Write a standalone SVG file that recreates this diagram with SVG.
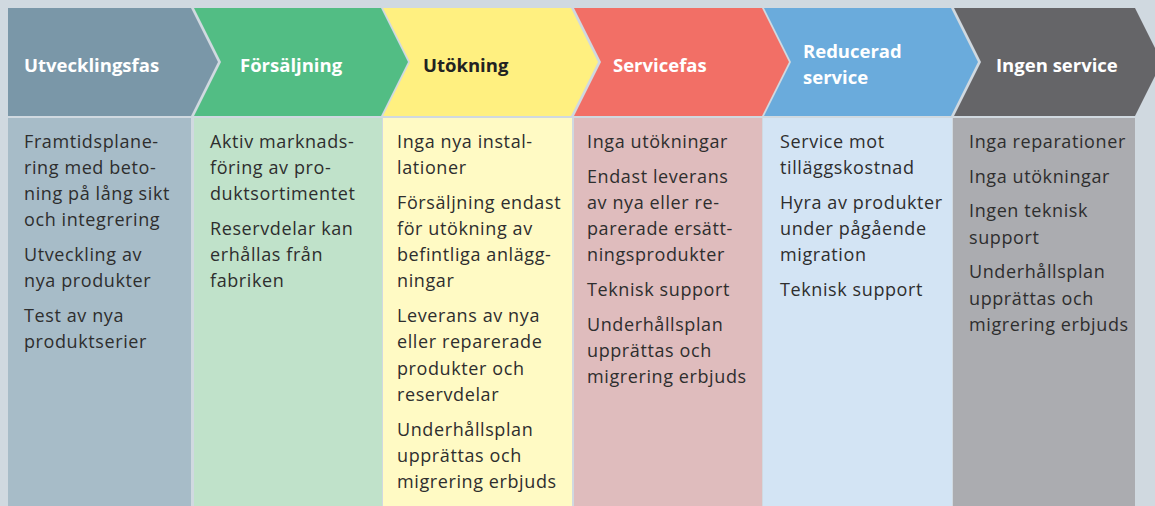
<svg xmlns="http://www.w3.org/2000/svg" width="1155" height="506" viewBox="0 0 1155 506">
<style>
.hd{font-family:"Open Sans","Noto Sans","Liberation Sans",sans-serif;font-weight:700;font-size:18.5px;fill:#ffffff}
.hd.dark{fill:#222222}
.bd{font-family:"Open Sans","Noto Sans","Liberation Sans",sans-serif;font-size:18px;letter-spacing:0.6px;fill:#2e2e2e}
</style>
<rect x="0" y="0" width="1155" height="506" fill="#d0d9e0"/>
<g id="connectors"></g>
<g id="phase1">
<polygon points="8,8 191,8 218,62 191,116 8,116" fill="#7a97a8"/>
<rect x="8" y="118" width="183" height="388" fill="#a7bcc8"/>
<text class="hd" x="24" y="72">Utvecklingsfas</text>
<text class="bd" x="24"><tspan x="24" y="147.7">Framtidsplane-</tspan><tspan x="24" y="173.9">ring med beto-</tspan><tspan x="24" y="200.1">ning på lång sikt</tspan><tspan x="24" y="226.3">och integrering</tspan><tspan x="24" y="261.1">Utveckling av</tspan><tspan x="24" y="287.3">nya produkter</tspan><tspan x="24" y="322.1">Test av nya</tspan><tspan x="24" y="348.3">produktserier</tspan></text>
</g>
<g id="phase2">
<polygon points="194,8 381,8 408,62 381,116 194,116 221,62" fill="#52bd84"/>
<rect x="194" y="118" width="188" height="388" fill="#c0e2ca"/>
<text class="hd" x="240" y="72">Försäljning</text>
<text class="bd"><tspan x="210" y="147.7">Aktiv marknads-</tspan><tspan x="210" y="173.9">föring av pro-</tspan><tspan x="210" y="200.1">duktsortimentet</tspan><tspan x="210" y="234.9">Reservdelar kan</tspan><tspan x="210" y="261.1">erhållas från</tspan><tspan x="210" y="287.3">fabriken</tspan></text>
</g>
<g id="phase3">
<polygon points="383,8 571,8 598,62 571,116 383,116 410,62" fill="#fff080"/>
<rect x="383" y="118" width="189" height="388" fill="#fffac4"/>
<text class="hd dark" x="423" y="72">Utökning</text>
<text class="bd"><tspan x="397" y="147.7">Inga nya instal-</tspan><tspan x="397" y="173.9">lationer</tspan><tspan x="397" y="208.7">Försäljning endast</tspan><tspan x="397" y="234.9">för utökning av</tspan><tspan x="397" y="261.1">befintliga anlägg-</tspan><tspan x="397" y="287.3">ningar</tspan><tspan x="397" y="322.1">Leverans av nya</tspan><tspan x="397" y="348.3">eller reparerade</tspan><tspan x="397" y="374.5">produkter och</tspan><tspan x="397" y="400.7">reservdelar</tspan><tspan x="397" y="435.5">Underhållsplan</tspan><tspan x="397" y="461.7">upprättas och</tspan><tspan x="397" y="487.9">migrering erbjuds</tspan></text>
</g>
<g id="phase4">
<polygon points="574,8 762,8 789,62 762,116 574,116 601,62" fill="#f26f66"/>
<rect x="574" y="118" width="188" height="388" fill="#dfbcbd"/>
<text class="hd" x="613" y="72">Servicefas</text>
<text class="bd"><tspan x="587" y="147.7">Inga utökningar</tspan><tspan x="587" y="182.5">Endast leverans</tspan><tspan x="587" y="208.7">av nya eller re-</tspan><tspan x="587" y="234.9">parerade ersätt-</tspan><tspan x="587" y="261.1">ningsprodukter</tspan><tspan x="587" y="295.9">Teknisk support</tspan><tspan x="587" y="330.7">Underhållsplan</tspan><tspan x="587" y="356.9">upprättas och</tspan><tspan x="587" y="383.1">migrering erbjuds</tspan></text>
</g>
<g id="phase5">
<polygon points="764,8 951,8 978,62 951,116 764,116 791,62" fill="#6aabdc"/>
<rect x="763" y="118" width="189" height="388" fill="#d3e4f4"/>
<text class="hd"><tspan x="803" y="57.5">Reducerad</tspan><tspan x="803" y="83.5">service</tspan></text>
<text class="bd"><tspan x="780" y="147.7">Service mot</tspan><tspan x="780" y="173.9">tilläggskostnad</tspan><tspan x="780" y="208.7">Hyra av produkter</tspan><tspan x="780" y="234.9">under pågående</tspan><tspan x="780" y="261.1">migration</tspan><tspan x="780" y="295.9">Teknisk support</tspan></text>
</g>
<g id="phase6">
<polygon points="954,8 1135,8 1162,62 1135,116 954,116 981,62" fill="#656568"/>
<rect x="953" y="118" width="182" height="388" fill="#abacb0"/>
<text class="hd" x="996" y="72">Ingen service</text>
<text class="bd"><tspan x="969" y="147.7">Inga reparationer</tspan><tspan x="969" y="182.5">Inga utökningar</tspan><tspan x="969" y="217.3">Ingen teknisk</tspan><tspan x="969" y="243.5">support</tspan><tspan x="969" y="278.3">Underhållsplan</tspan><tspan x="969" y="304.5">upprättas och</tspan><tspan x="969" y="330.7">migrering erbjuds</tspan></text>
</g>
</svg>
